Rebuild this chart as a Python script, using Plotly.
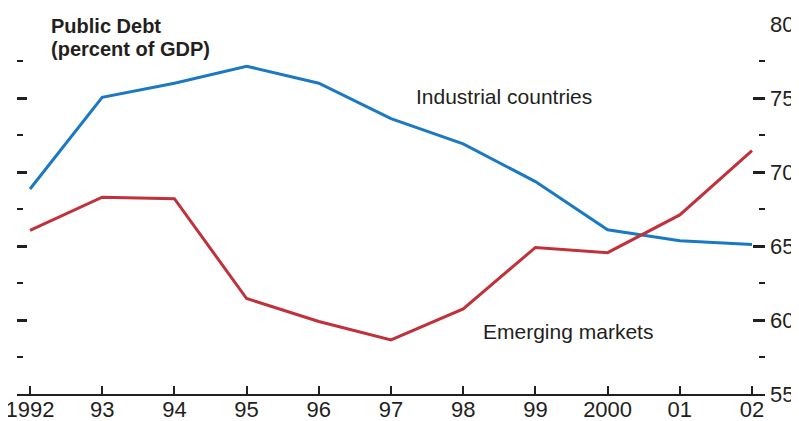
import plotly.graph_objects as go

years = [1992, 1993, 1994, 1995, 1996, 1997, 1998, 1999, 2000, 2001, 2002]
year_labels = ["1992", "93", "94", "95", "96", "97", "98", "99", "2000", "01", "02"]
industrial = [68.85, 75.05, 76.0, 77.15, 76.0, 73.6, 71.9, 69.35, 66.1, 65.35, 65.1]
emerging = [66.05, 68.3, 68.2, 61.45, 59.9, 58.65, 60.75, 64.9, 64.55, 67.1, 71.45]
y_ticks = [55, 60, 65, 70, 75, 80]
y_tick_labels = ["55", "60", "65", "70", "75", "80"]

INK = "#231f20"
BLUE = "#1a79c2"
RED = "#c1313b"
FONT = "Liberation Sans, Arial, sans-serif"

fig = go.Figure()
fig.add_trace(go.Scatter(x=years, y=industrial, mode="lines", name="Industrial countries",
                         line=dict(color=BLUE, width=3), yaxis="y", showlegend=False))
fig.add_trace(go.Scatter(x=years, y=emerging, mode="lines", name="Emerging markets",
                         line=dict(color=RED, width=3), yaxis="y", showlegend=False))
# invisible trace to activate the right axis
fig.add_trace(go.Scatter(x=[years[0]], y=[y_ticks[0]], mode="markers", marker=dict(opacity=0),
                         yaxis="y2", showlegend=False, hoverinfo="skip"))

yr = [55, 80]
# page body has an 8px margin, so the figure is sized to fit inside the 799x421 window
fig.update_layout(
    width=791, height=413,
    margin=dict(l=9, r=34, t=16, b=27, autoexpand=False),
    paper_bgcolor="white", plot_bgcolor="white",
    font=dict(family=FONT, color=INK, size=21),
    xaxis=dict(range=[1991.82, 2002.18], tickmode="array", tickvals=years, ticktext=year_labels,
               automargin=False, ticklabeloverflow="allow", ticklabelstandoff=-5,
               showgrid=False, zeroline=False, showline=True, linecolor=INK, linewidth=2,
               ticks="inside", ticklen=8, tickwidth=2, tickcolor=INK,
               tickfont=dict(size=22, family=FONT, color=INK)),
    yaxis=dict(range=yr, tickmode="array", tickvals=y_ticks, showticklabels=False,
               automargin=False,
               showgrid=False, zeroline=False, showline=False,
               ticks="inside", ticklen=10, tickwidth=2.5, tickcolor=INK,
               minor=dict(ticks="inside", ticklen=6, tickwidth=2, tickcolor=INK, dtick=2.5, tick0=55,
                          showgrid=False)),
    yaxis2=dict(range=yr, overlaying="y", side="right", tickmode="array", tickvals=y_ticks,
                ticktext=y_tick_labels, showgrid=False, zeroline=False, showline=False,
                automargin=False, ticklabeloverflow="allow", ticklabelstandoff=4,
                ticks="inside", ticklen=12, tickwidth=2.5, tickcolor=INK,
                tickfont=dict(size=22, family=FONT, color=INK),
                minor=dict(ticks="inside", ticklen=6, tickwidth=2, tickcolor=INK, dtick=2.5, tick0=55,
                           showgrid=False)),
    annotations=[
        dict(x=1992.26, y=79.86, xref="x", yref="y", text="<b>Public Debt</b>", showarrow=False,
             xanchor="left", yanchor="middle", font=dict(family=FONT, size=20, color=INK)),
        dict(x=1992.26, y=78.31, xref="x", yref="y", text="<b>(percent of GDP)</b>", showarrow=False,
             xanchor="left", yanchor="middle", font=dict(family=FONT, size=20, color=INK)),
        dict(x=1997.32, y=75.07, xref="x", yref="y", text="Industrial countries", showarrow=False,
             xanchor="left", yanchor="middle", font=dict(family=FONT, size=21, color=INK)),
        dict(x=1998.25, y=59.19, xref="x", yref="y", text="Emerging markets", showarrow=False,
             xanchor="left", yanchor="middle", font=dict(family=FONT, size=21, color=INK)),
    ],
)

fig.write_html("out.html")
